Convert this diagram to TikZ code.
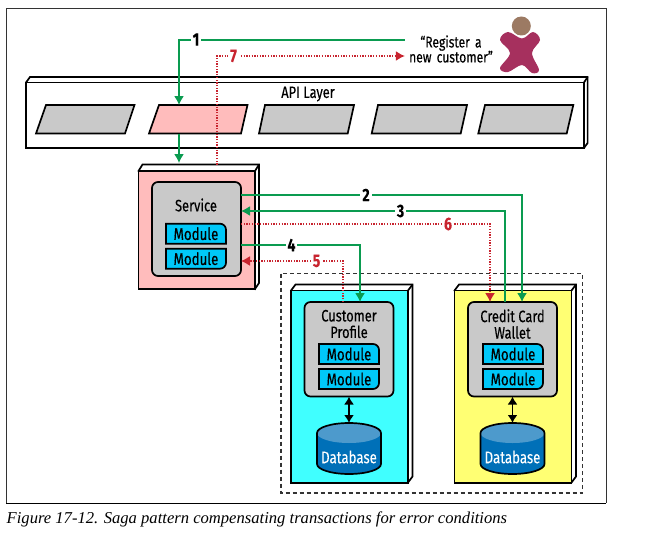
\documentclass[tikz,border=0pt]{standalone}
\usepackage{fontspec}
\setmainfont[FakeStretch=0.78,FakeBold=0.25]{Fira Sans}
\newfontfamily\capfont{Liberation Serif}
\usetikzlibrary{arrows.meta}

\definecolor{okgreen}{HTML}{0A9B50}
\definecolor{badred}{HTML}{C8242F}
\definecolor{boxgray}{HTML}{C9C9C9}
\definecolor{svcpink}{HTML}{FFBCBC}
\definecolor{modblue}{HTML}{00C8F8}
\definecolor{cuscyan}{HTML}{40FFFF}
\definecolor{walyellow}{HTML}{FFFF73}
\definecolor{dbtop}{HTML}{4D9ACC}
\definecolor{dbbody}{HTML}{0070B8}
\definecolor{headbrown}{HTML}{9C7A63}
\definecolor{bodyred}{HTML}{A6305E}

\tikzset{
	panelbox/.style={draw,line width=1.7pt,inner sep=0pt,outer sep=0pt,anchor=north west},
	innerbox/.style={panelbox,fill=boxgray,rounded corners=6pt,minimum width=89pt},
	modline/.style={draw,fill=modblue,line width=1.7pt},
	modtext/.style={font=\fontsize{17}{17}\selectfont,inner sep=0pt},
	titletext/.style={font=\fontsize{16.5}{16.5}\selectfont,align=center,inner sep=0pt},
	okline/.style={color=okgreen,line width=1.5pt},
	badline/.style={color=badred,line width=1.3pt,dash pattern=on 1.3pt off 1.4pt},
	steplabel/.style={font=\fontsize{18}{18}\selectfont\bfseries,fill=white,inner sep=2pt}
}

\begin{document}
\begin{tikzpicture}[x=1pt,y=-1pt,>={Latex[length=9pt,width=10pt]}]

\useasboundingbox (0,0) rectangle (650,535);

% page frame and caption
\draw[line width=1pt,color=black!80] (6,503) -- (6,9) -- (606,9) -- (606,503);
\draw[line width=1pt] (6,503) -- (606,503);
\node[anchor=west,inner sep=0pt,font=\capfont\itshape\fontsize{16.6}{16.6}\selectfont] (figcap) at (6.5,519)
	{Figure 17-12. Saga pattern compensating transactions for error conditions};

% actor
\fill[color=headbrown] (521.3,26) circle[radius=9.5];
\fill[color=bodyred] plot[smooth cycle,tension=0.6] coordinates
	{(522,38.5) (533,32) (540,40) (532,53) (539,70) (532,73) (522,65) (508,72) (500,68) (510,53) (500,40) (508,32)};
\node[titletext,text width=92pt,font=\fontsize{15.5}{15}\selectfont] (regtext) at (451,49) {``Register a\\new customer''};

% api layer
\fill[color=white] (26,82.5) -- (30,77) -- (587.6,77) -- (587.6,143) -- (584,148) -- cycle;
\draw[line width=1.7pt] (26,82.5) -- (30,77) -- (587.6,77) -- (587.6,143) -- (584,148);
\draw[line width=1.7pt] (584,82.5) -- (587.6,77);
\node[panelbox,fill=white,minimum width=558pt,minimum height=65.5pt] (api) at (26,82.5) {};
\node[titletext] (apititle) at (308,94) {API Layer};

\foreach \n/\ax/\bx/\cx/\dx/\col in {1/36/46/134.5/125/boxgray,2/149/159/247.5/241/svcpink,
	3/259/265/354/347.7/boxgray,4/371.7/378/467/460.7/boxgray,5/478.3/485/573.3/566.7/boxgray}
{
	\draw[fill=\col,line width=1.7pt] (\ax,133.5) -- (\bx,105) -- (\cx,105) -- (\dx,133.5) -- cycle;
}
\coordinate (apiin) at (179,105);
\coordinate (apiout) at (179,133.5);

% service
\draw[fill=white,line width=1.7pt] (138.5,171) -- (142.5,164.5) -- (259,164.5) -- (259,283) -- (255,289) -- cycle;
\draw[line width=1.7pt] (255,171) -- (259,164.5);
\node[panelbox,fill=svcpink,minimum width=116.5pt,minimum height=118pt] (svc) at (138.5,171) {};
\node[innerbox,minimum height=94pt] (svcin) at (152,182) {};
\node[titletext] (svctitle) at (196,205) {Service};
\coordinate (svctop) at (179,163);
\coordinate (svcback) at (217,164.5);

% customer profile and credit card wallet
\draw[line width=1.2pt,dash pattern=on 4pt off 3pt,color=black!80] (281,273.7) rectangle (582.5,493);

\foreach \n/\x/\col/\txt in {cus/291/cuscyan/Customer\\Profile,wal/454.5/walyellow/Credit Card\\Wallet}
{
	\draw[fill=white,line width=1.7pt] (\x,290.5) -- ++(4.5,-6) -- ++(117,0) -- ++(0,192) -- ++(-4.5,6) -- cycle;
	\draw[line width=1.7pt] (\x+117,290.5) -- ++(4.5,-6);
	\node[panelbox,fill=\col,minimum width=117pt,minimum height=192.5pt] (\n) at (\x,290.5) {};
	\node[innerbox,minimum height=94.5pt] (\n in) at (\x+13.5,302) {};
	\node[titletext] (\n title) at (\x+58,324) {\txt};
	% database
	\fill[color=dbbody] (\x+26,433) -- (\x+26,464) arc[start angle=180,end angle=360,x radius=32pt,y radius=10pt] -- (\x+90,433) arc[start angle=0,end angle=180,x radius=32pt,y radius=10pt] -- cycle;
	\fill[color=dbtop] (\x+58,433) ellipse[x radius=32pt,y radius=10pt];
	\draw[line width=1.7pt] (\x+26,433) -- (\x+26,464) arc[start angle=180,end angle=360,x radius=32pt,y radius=10pt] -- (\x+90,433) arc[start angle=0,end angle=180,x radius=32pt,y radius=10pt] -- cycle;
	\node[minimum width=64pt,minimum height=51pt,inner sep=0pt,outer sep=0pt] (\n db) at (\x+58,448.5) {};
	\node[text=white,font=\fontsize{17}{17}\selectfont,inner sep=0pt] (\n dbtext) at (\x+58,457) {Database};
	\draw[{Latex[length=8pt,width=10pt]}-{Latex[length=8pt,width=10pt]},line width=1.7pt] (\n in.south) -- (\n db.north);
}

% modules
\foreach \n/\cx/\ya/\yb in {svc/196/233.7/258.7,cus/349/354/379,wal/513/354/379}
{
	\draw[modline] (\cx-30,\ya-10) -- (\cx+24,\ya-10) arc[start angle=90,end angle=0,radius=6pt] -- (\cx+30,\ya+10) -- (\cx-30,\ya+10) -- cycle;
	\draw[modline] (\cx-30,\yb-10) -- (\cx+30,\yb-10) -- (\cx+30,\yb+4) arc[start angle=0,end angle=-90,radius=6pt] -- (\cx-30,\yb+10) -- cycle;
	\node[modtext] (\n mod1) at (\cx,\ya) {Module};
	\node[modtext] (\n mod2) at (\cx,\yb) {Module};
}

% connectors
\draw[okline,->] ([yshift=9pt]regtext.west) -| (apiin);
\draw[okline,->] (apiout) -- (svctop);
\draw[badline,->] (svcback) |- ([yshift=-7pt]regtext.west);

\draw[okline,->] ([yshift=-13pt]svcin.north east) -| ([xshift=54pt]walin.north west);
\draw[okline,->] ([xshift=37pt]walin.north west) |- ([yshift=-29pt]svcin.north east);
\draw[badline,->] ([yshift=-42pt]svcin.north east) -| ([xshift=22pt]walin.north west);
\draw[okline,->] ([yshift=-63pt]svcin.north east) -| ([xshift=55.5pt]cusin.north west);
\draw[badline,->] ([xshift=38.5pt]cusin.north west) |- ([yshift=-79pt]svcin.north east);

% step numbers
\node[steplabel] (step1) at (196,39.5) {1};
\node[steplabel] (step2) at (366,195) {2};
\node[steplabel] (step3) at (400.5,211) {3};
\node[steplabel] (step4) at (291.5,245) {4};
\node[steplabel,text=badred] (step5) at (316.5,261) {5};
\node[steplabel,text=badred] (step6) at (448,224) {6};
\node[steplabel,text=badred] (step7) at (233.5,56) {7};

\end{tikzpicture}
\end{document}
